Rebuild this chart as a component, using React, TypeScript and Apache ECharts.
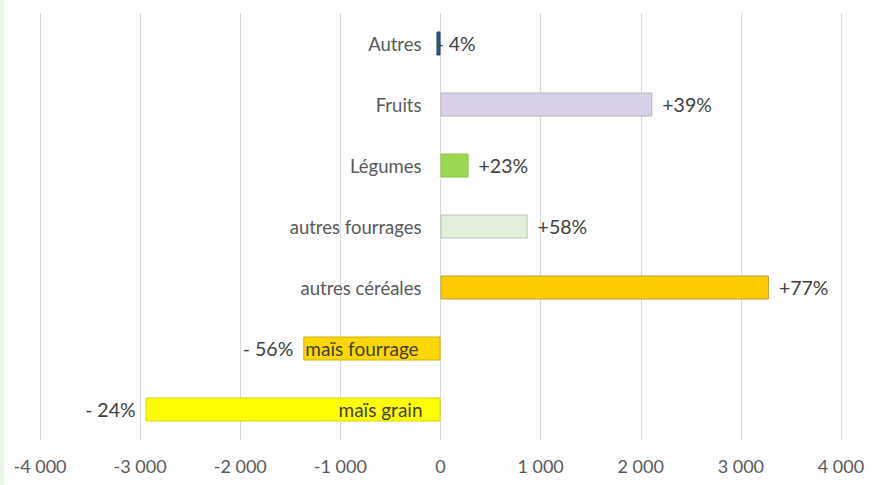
import React, { useEffect, useRef } from "react";
import * as echarts from "echarts";

const categories = ["Autres", "Fruits", "Légumes", "autres fourrages", "autres céréales", "maïs fourrage", "maïs grain"];
const axisNames = ["Autres", "Fruits", "Légumes", "autres fourrages", "autres céréales", "", ""];
const values = [-40, 2115, 280, 870, 3280, -1370, -2945];
const pctLabels = ["- 4%", "+39%", "+23%", "+58%", "+77%", "- 56%", "- 24%"];
const barColors = ["#2e5a8c", "#d9d0e8", "#9bd84f", "#e2efd9", "#ffcc00", "#ffd700", "#ffff00"];
const borderColors = ["#1f3f66", "#b4b4b4", "#8cc24a", "#bfbfbf", "#c0a040", "#d4b000", "#d6d600"];
const innerNames = ["", "", "", "", "", "maïs fourrage", "maïs grain"];
const xTicks = [-4000, -3000, -2000, -1000, 0, 1000, 2000, 3000, 4000];

const FONT = "Lato, 'Open Sans', sans-serif";

export default function App() {
  const ref = useRef<HTMLDivElement>(null);
  useEffect(() => {
    if (!ref.current) return;
    const chart = echarts.init(ref.current, null, { renderer: "svg" });
    const mainData = values.map((v, i) => {
      const neg = v < 0;
      let label: any = {
        show: true,
        formatter: pctLabels[i],
        position: neg ? "left" : "right",
        distance: 10,
        color: "#404040",
        fontSize: 19.5,
        fontFamily: FONT,
      };
      if (i === 0) {
        label = { ...label, position: "insideLeft", distance: 0 };
      }
      return {
        value: v,
        itemStyle: { color: barColors[i], borderColor: borderColors[i], borderWidth: 1 },
        label,
      };
    });
    const innerData = values.map((v, i) =>
      innerNames[i]
        ? {
            value: v,
            itemStyle: { color: "rgba(0,0,0,0)" },
            label: {
              show: true,
              formatter: innerNames[i],
              position: i === 5 ? "insideLeft" : "insideRight",
              distance: i === 5 ? 2 : 18,
              color: "#404040",
              fontSize: 19,
              fontFamily: FONT,
            },
          }
        : "-"
    );
    const nameData = axisNames.map((n) =>
      n
        ? {
            value: 0,
            itemStyle: { color: "rgba(0,0,0,0)" },
            label: {
              show: true,
              formatter: n,
              position: "left",
              distance: 19,
              color: "#595959",
              fontSize: 18.5,
              fontFamily: FONT,
            },
          }
        : "-"
    );
    chart.setOption({
      animation: false,
      backgroundColor: "#ffffff",
      textStyle: { fontFamily: FONT },
      grid: { left: 40, right: 31, top: 13, bottom: 45, containLabel: false, outerBoundsMode: "none" },
      graphic: [
        { type: "rect", left: 0, top: 0, shape: { x: 0, y: 0, width: 4, height: 485 }, style: { fill: "#e8f6e8" } },
      ],
      xAxis: {
        type: "value",
        min: xTicks[0],
        max: xTicks[xTicks.length - 1],
        interval: 1000,
        axisLine: { show: false },
        axisTick: { show: false },
        splitLine: { show: true, lineStyle: { color: "#d9d9d9", width: 1 } },
        axisLabel: {
          margin: 17,
          color: "#595959",
          fontSize: 18,
          fontFamily: FONT,
          formatter: (v: number) => {
            const s = Math.abs(v).toString().replace(/\B(?=(\d{3})+(?!\d))/g, " ");
            return (v < 0 ? "-" : "") + s;
          },
        },
      },
      yAxis: {
        type: "category",
        data: categories,
        inverse: true,
        axisLine: { show: false },
        axisTick: { show: false },
        splitLine: { show: false },
        axisLabel: { show: false },
      },
      series: [
        { type: "bar", data: mainData, barWidth: 24, barGap: "-100%" },
        { type: "bar", data: innerData, barWidth: 24, barGap: "-100%", silent: true },
        { type: "bar", data: nameData, barWidth: 24, barGap: "-100%", silent: true },
      ],
    });
    return () => chart.dispose();
  }, []);
  return (
    <div
      ref={ref}
      style={{ position: "fixed", left: 0, top: 0, width: 872, height: 485, background: "#fff" }}
    />
  );
}
